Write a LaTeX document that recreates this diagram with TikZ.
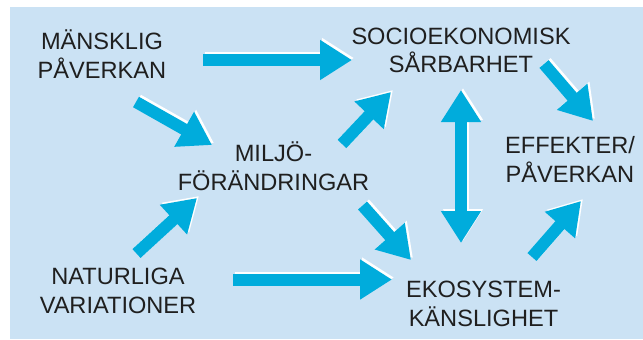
\documentclass[tikz,border=0pt]{standalone}
\usepackage{fontspec}
\setmainfont{Liberation Sans}
\usetikzlibrary{arrows.meta}

\definecolor{bgblue}{RGB}{203,226,244}
\definecolor{flowcyan}{RGB}{0,172,220}

\tikzset{
  >={Triangle[width=19pt,length=16pt]},
  txt/.style={font=\fontsize{11.8}{14.25}\selectfont, align=center,
    anchor=base, inner sep=0pt, text=black!88},
  flow/.style={line width=6pt, ->, flowcyan},
}

% white edge first, then the cyan arrow on top
\newcommand{\flowarrow}[3][]{%
  \draw[flow,#1,white,transform canvas={shift={(1pt,1pt)}}] (#2) -- (#3);
  \draw[flow,#1] (#2) -- (#3);}

\begin{document}
\begin{tikzpicture}[x=0.5pt,y=-0.5pt]
\useasboundingbox (0,0) rectangle (643,339);
\fill[bgblue] (10,7) rectangle (643,339);

% labels (base = last line)
\node[txt] (mans)   at (102,78)    {MÄNSKLIG\\PÅVERKAN};
\node[txt] (socio)  at (461,72.5)  {SOCIOEKONOMISK\\SÅRBARHET};
\node[txt] (milj)   at (273.5,190) {MILJÖ-\\FÖRÄNDRINGAR};
\node[txt] (effekt) at (570,182)   {EFFEKTER/\\PÅVERKAN};
\node[txt] (natur)  at (118,313)   {NATURLIGA\\VARIATIONER};
\node[txt] (eko)    at (483.5,326) {EKOSYSTEM-\\KÄNSLIGHET};

% arrow ends
\coordinate (ms0) at (203,60);     \coordinate (ms1) at (352,60);
\coordinate (mm0) at (136,102);    \coordinate (mm1) at (212,145);
\coordinate (nm0) at (136.5,253.5);\coordinate (nm1) at (197,198);
\coordinate (mo0) at (342,144);    \coordinate (mo1) at (391,92);
\coordinate (se0) at (544,64);     \coordinate (se1) at (593,121);
\coordinate (me0) at (362.5,205.5);\coordinate (me1) at (411,260);
\coordinate (ne0) at (233,279.5);  \coordinate (ne1) at (392,279.5);
\coordinate (ee0) at (532,257);    \coordinate (ee1) at (581,201);
\coordinate (sv0) at (461,90);     \coordinate (sv1) at (461,243);

% arrows
\flowarrow{ms0}{ms1}
\flowarrow{mm0}{mm1}
\flowarrow{nm0}{nm1}
\flowarrow{mo0}{mo1}
\flowarrow{se0}{se1}
\flowarrow{me0}{me1}
\flowarrow{ne0}{ne1}
\flowarrow{ee0}{ee1}
\flowarrow[<->]{sv0}{sv1}
\end{tikzpicture}
\end{document}
